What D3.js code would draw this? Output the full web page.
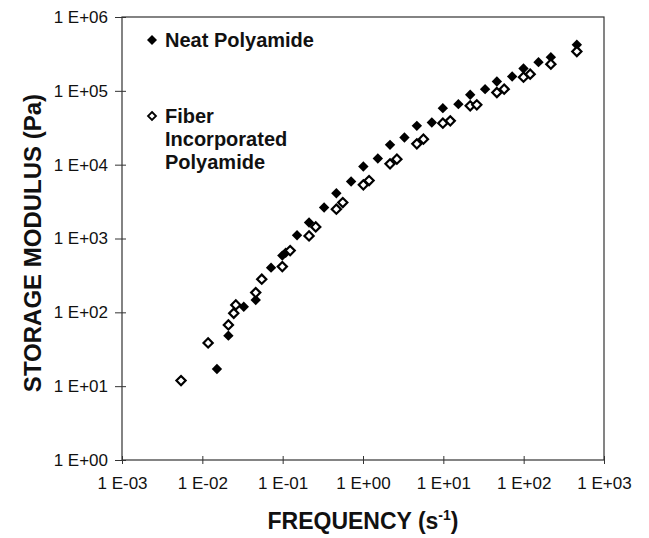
<!DOCTYPE html>
<html>
<head>
<meta charset="utf-8">
<script src="https://cdn.jsdelivr.net/npm/d3@7/dist/d3.min.js"></script>
<style>
  html, body { margin: 0; padding: 0; background: #fff; }
  svg { display: block; font-family: "Liberation Sans", Arial, Helvetica, sans-serif; }
</style>
</head>
<body>
<svg id="chart" width="649" height="538"></svg>
<script>
// Storage modulus vs. frequency, log-log
const neatFreq = [0.00543, 0.0118, 0.0152, 0.0211, 0.0328, 0.0462, 0.0717, 0.099, 0.109, 0.151, 0.213, 0.328, 0.466, 0.711, 1.01, 1.53, 2.17, 3.28, 4.68, 7.19, 9.86, 15.4, 21.6, 33.1, 46.4, 71.9, 99.5, 153, 218, 459];
const neatModulus = [11.9, 38.5, 17.1, 48.3, 119, 147, 403, 587, 640, 1109, 1644, 2624, 4105, 5906, 9430, 12100, 18550, 23330, 33570, 37230, 58250, 66050, 88300, 105400, 133700, 156300, 200600, 244800, 286100, 420000];

const fiberFreq = [0.00543, 0.0118, 0.0211, 0.0246, 0.0261, 0.0462, 0.0549, 0.099, 0.124, 0.213, 0.258, 0.466, 0.560, 1.01, 1.19, 2.17, 2.64, 4.68, 5.65, 9.86, 12.2, 21.6, 26.1, 46.4, 57.2, 99.5, 120.5, 218, 459];
const fiberModulus = [11.9, 38.5, 67.5, 97.2, 126, 185, 281, 416, 686, 1084, 1436, 2494, 3069, 5325, 6095, 10250, 11870, 19130, 22150, 36480, 39200, 62630, 64600, 94900, 105400, 153200, 168300, 230000, 341000];

const xTicks = [1e-3, 1e-2, 1e-1, 1e0, 1e1, 1e2, 1e3];
const xTickLabels = ["1 E-03", "1 E-02", "1 E-01", "1 E+00", "1 E+01", "1 E+02", "1 E+03"];
const yTicks = [1e0, 1e1, 1e2, 1e3, 1e4, 1e5, 1e6];
const yTickLabels = ["1 E+00", "1 E+01", "1 E+02", "1 E+03", "1 E+04", "1 E+05", "1 E+06"];

const seriesNames = ["Neat Polyamide", ["Fiber", "Incorporated", "Polyamide"]];

const plotLeft = 122, plotRight = 604, plotTop = 17, plotBottom = 460;
const svg = d3.select("#chart");

const x = d3.scaleLog().domain([1e-3, 1e3]).range([plotLeft, plotRight]);
const y = d3.scaleLog().domain([1, 1e6]).range([plotBottom, plotTop]);

const axisColor = "#333";

// frame
svg.append("rect")
  .attr("x", plotLeft).attr("y", plotTop)
  .attr("width", plotRight - plotLeft).attr("height", plotBottom - plotTop)
  .attr("fill", "none").attr("stroke", axisColor).attr("stroke-width", 1.2);

// x axis with ticks crossing the baseline
const gx = svg.append("g")
  .attr("transform", `translate(0,${plotBottom})`)
  .call(d3.axisBottom(x).tickValues(xTicks)
    .tickFormat((d, i) => xTickLabels[i]).tickSize(4).tickPadding(13));
gx.select(".domain").remove();
gx.selectAll(".tick line").attr("y1", -4).attr("y2", 4).attr("stroke", axisColor);
gx.selectAll(".tick text").attr("font-size", 17).attr("fill", "#111")
  .attr("font-family", "'Liberation Sans', Arial, sans-serif");

// y axis with ticks crossing the baseline
const gy = svg.append("g")
  .attr("transform", `translate(${plotLeft},0)`)
  .call(d3.axisLeft(y).tickValues(yTicks)
    .tickFormat((d, i) => yTickLabels[i]).tickSize(7).tickPadding(7));
gy.select(".domain").remove();
gy.selectAll(".tick line").attr("x1", 4).attr("x2", -7).attr("stroke", axisColor);
gy.selectAll(".tick text").attr("font-size", 17).attr("fill", "#111")
  .attr("font-family", "'Liberation Sans', Arial, sans-serif");

// diamond path centred at origin
const diamond = r => `M0,${-r}L${r},0L0,${r}L${-r},0Z`;

const neat = neatFreq.map((f, i) => ({ f, g: neatModulus[i] }));
const fiber = fiberFreq.map((f, i) => ({ f, g: fiberModulus[i] }));

// filled markers first, open markers drawn over them
svg.append("g").selectAll("path").data(neat).join("path")
  .attr("d", diamond(5.2))
  .attr("transform", d => `translate(${x(d.f)},${y(d.g)})`)
  .attr("fill", "#000");

svg.append("g").selectAll("path").data(fiber).join("path")
  .attr("d", diamond(4.6))
  .attr("transform", d => `translate(${x(d.f)},${y(d.g)})`)
  .attr("fill", "#fff").attr("stroke", "#000").attr("stroke-width", 2.2);

// legend
const lg = svg.append("g").attr("font-size", 20).attr("font-weight", "bold").attr("fill", "#111");
lg.append("path").attr("d", diamond(5)).attr("transform", "translate(152,40)").attr("fill", "#000");
lg.append("text").attr("x", 165).attr("y", 47).text(seriesNames[0]);
lg.append("path").attr("d", diamond(4)).attr("transform", "translate(152,116)")
  .attr("fill", "#fff").attr("stroke", "#000").attr("stroke-width", 1.8);
seriesNames[1].forEach((t, i) => {
  lg.append("text").attr("x", 165).attr("y", 123 + i * 23).text(t);
});

// axis titles
const xt = svg.append("text")
  .attr("x", (plotLeft + plotRight) / 2).attr("y", 529)
  .attr("text-anchor", "middle").attr("font-size", 23).attr("font-weight", "bold").attr("fill", "#111");
xt.append("tspan").text("FREQUENCY (s");
xt.append("tspan").attr("dy", -9).attr("font-size", 14).text("-1");
xt.append("tspan").attr("dy", 9).text(")");

svg.append("text")
  .attr("transform", "translate(41,243) rotate(-90)")
  .attr("text-anchor", "middle").attr("font-size", 24).attr("font-weight", "bold").attr("fill", "#111")
  .text("STORAGE MODULUS (Pa)");
</script>
</body>
</html>
